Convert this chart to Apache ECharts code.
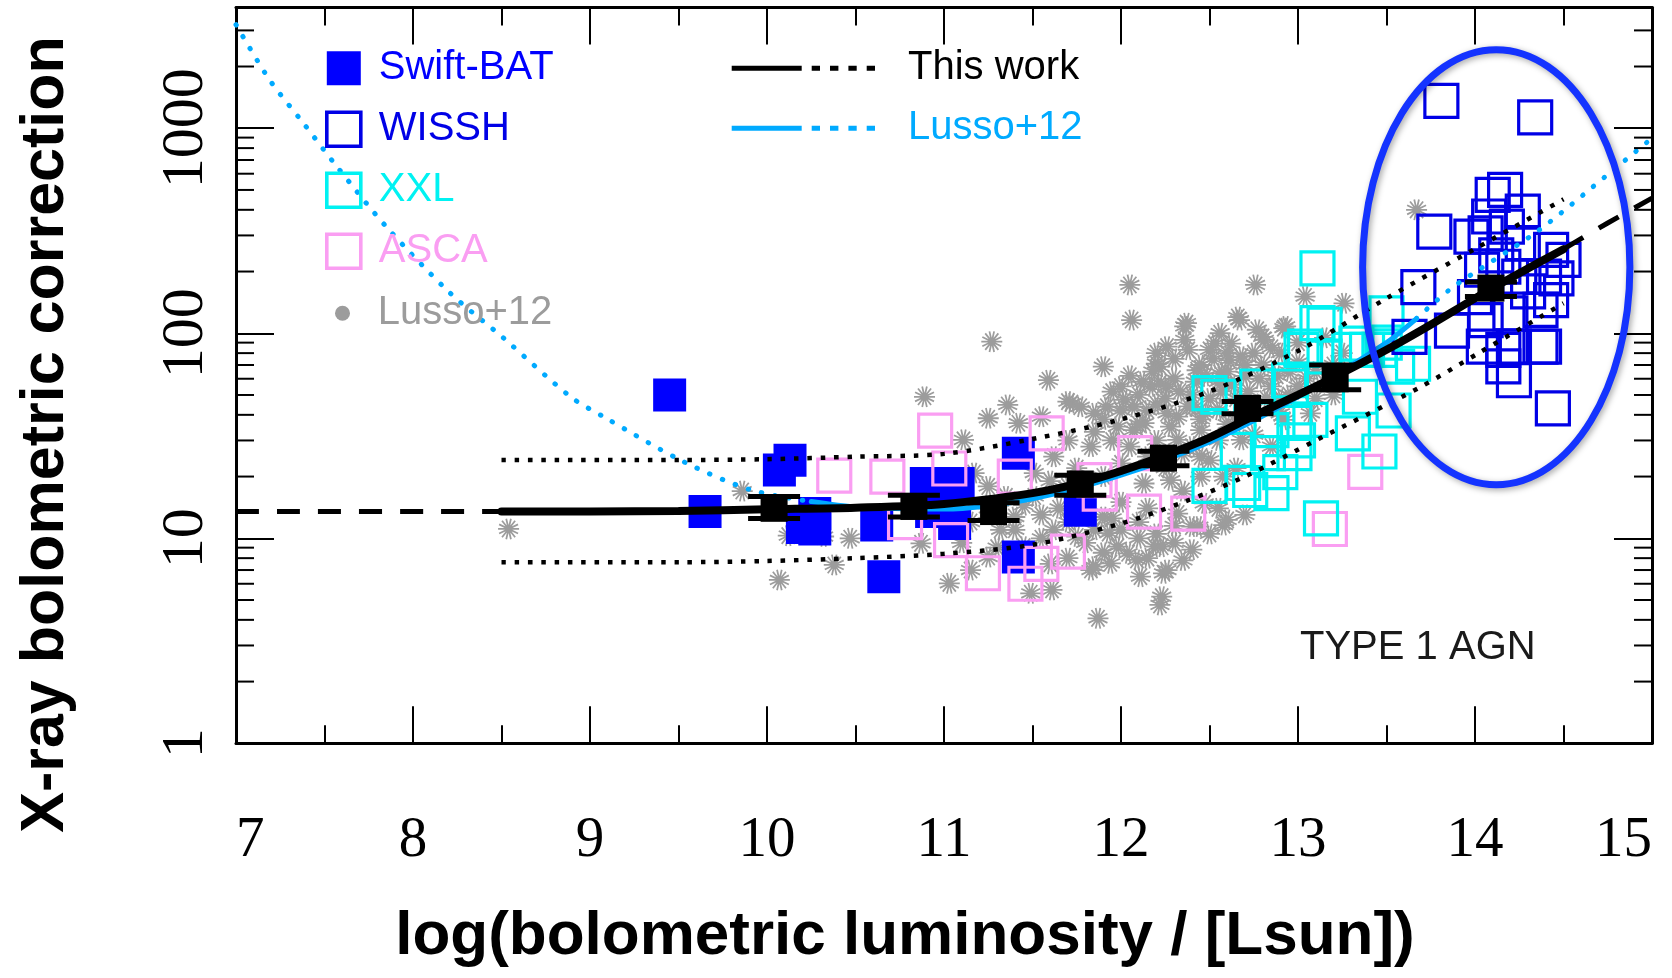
<!DOCTYPE html>
<html>
<head>
<meta charset="utf-8">
<title>X-ray bolometric correction – Type 1 AGN</title>
<script src="https://cdn.jsdelivr.net/npm/echarts@6/dist/echarts.min.js"></script>
<style>
  html, body { margin: 0; padding: 0; background: #ffffff; }
  #chart { width: 1672px; height: 978px; }
</style>
</head>
<body>
<div id="chart"></div>
<script>
// ---------------------------------------------------------------------------
// Axis ranges and tick labels
// ---------------------------------------------------------------------------
const X_MIN = 7, X_MAX = 15;
const Y_MIN = 1, Y_MAX = 3880;
const X_TICK_LABELS = ['7', '8', '9', '10', '11', '12', '13', '14', '15'];
const Y_TICK_LABELS = ['1', '10', '100', '1000'];
const Y_MINOR_TICKS = [2, 3, 4, 5, 6, 7, 8, 9,
                       20, 30, 40, 50, 60, 70, 80, 90,
                       200, 300, 400, 500, 600, 700, 800, 900,
                       2000, 3000];

// ---------------------------------------------------------------------------
// Samples: [log(Lbol / Lsun), k_X]
// ---------------------------------------------------------------------------
const swiftBat = [[9.45, 50], [9.65, 13.5], [10.07, 21.5], [10.13, 24], [10.2, 11.3], [10.27, 11.1],
  [10.27, 13.2], [10.62, 11.6], [10.66, 6.5], [10.9, 18.5], [11.08, 18.5], [10.93, 13.5],
  [11.06, 11.8], [11.42, 26], [11.42, 8.1], [11.77, 13.7]];

const asca = [[10.38, 20.2], [10.68, 20], [10.78, 12], [10.95, 33.5], [11.03, 21.9], [11.04, 9.8],
  [11.22, 6.75], [11.4, 20], [11.46, 6.0], [11.55, 7.5], [11.58, 32.5], [11.7, 8.6], [11.85, 19.2],
  [11.88, 16.5], [12.08, 26], [12.13, 13.5], [12.38, 13.2], [13.18, 11.1], [13.38, 21.1]];

const xxl = [[12.5, 51], [12.55, 49], [12.5, 18], [12.69, 18.6], [12.73, 17.2], [12.85, 16.6],
  [12.66, 27], [12.83, 26], [12.98, 26], [12.85, 33.7], [12.77, 55], [12.96, 55], [12.95, 59],
  [12.98, 36.5], [13.07, 37.8], [13.02, 83], [13.04, 86], [13.15, 77], [13.33, 89], [13.11, 207],
  [13.11, 112], [13.15, 110], [13.13, 12.5], [13.29, 83], [13.31, 32.5], [13.35, 49], [13.39, 83],
  [13.46, 26.5], [13.46, 83], [13.49, 90], [13.5, 125], [13.54, 42], [13.56, 68.7], [13.65, 71],
  [12.9, 21], [13.0, 30]];

const wissh = [[13.81, 1360], [14.34, 1130], [13.77, 313], [13.68, 168], [13.63, 96], [13.87, 103],
  [14.17, 500], [14.1, 473], [14.27, 392], [14.08, 371], [13.98, 296], [14.06, 307], [14.27, 275],
  [14.18, 331], [14.5, 228], [14.46, 185], [14.43, 145], [14.16, 211], [14.25, 189], [14.04, 204],
  [14.2, 125], [14.06, 116], [14.37, 130], [14.37, 86], [14.16, 83], [14.16, 69], [14.22, 59],
  [14.44, 43], [14.22, 86], [14.39, 86], [14.05, 86], [14.39, 189], [14.43, 255], [14.12, 240],
  [14.3, 160], [14.0, 150]];

const lussoPoints = [[8.54, 11.1], [9.86, 17.0], [10.07, 6.26], [10.12, 10.3], [10.32, 10.2],
  [10.38, 7.41], [10.47, 10.0], [10.87, 9.45], [10.89, 49], [11.03, 6.03], [11.11, 30.2], [11.15, 7.0],
  [11.17, 20.8], [11.25, 38.5], [11.25, 17.9], [11.25, 8.1], [11.27, 91], [11.32, 11.0], [11.36, 44.7],
  [11.4, 12.7], [11.4, 26], [11.42, 36.4], [11.45, 9.1], [11.49, 5.39], [11.51, 20.8], [11.51, 16],
  [11.55, 39.2], [11.59, 59], [11.61, 5.6], [11.62, 25], [11.62, 11], [11.7, 46.4], [11.7, 17.9],
  [11.72, 45.6], [11.75, 10.2], [11.77, 43.8], [11.83, 28], [11.83, 7.0], [11.85, 40.7], [11.85, 7.27],
  [11.87, 4.07], [11.9, 68.7], [11.9, 12.7], [11.92, 43.8], [11.93, 10.6], [11.94, 7.55], [11.95, 51.9],
  [11.98, 35], [11.98, 9.1], [12.0, 23.2], [12.02, 47.3], [12.04, 8.45], [12.05, 172], [12.06, 116],
  [12.07, 43.8], [12.07, 33.7], [12.09, 7.84], [12.11, 6.5], [12.13, 36.4], [12.13, 18.5], [12.17, 55],
  [12.19, 9.1], [12.2, 80], [12.2, 71], [12.22, 68.7], [12.22, 57], [12.22, 4.73], [12.23, 9.1],
  [12.23, 5.19], [12.24, 6.75], [12.26, 55], [12.26, 40.7], [12.26, 86], [12.26, 7.0], [12.28, 19.2],
  [12.32, 30.2], [12.32, 39.2], [12.32, 13.2], [12.36, 92.8], [12.36, 108], [12.37, 112], [12.38, 83],
  [12.4, 11.4], [12.41, 43.8], [12.43, 66], [12.44, 11.4], [12.45, 33.7], [12.45, 25], [12.47, 14.8],
  [12.47, 40.7], [12.5, 83], [12.53, 89], [12.55, 42.3], [12.56, 63.8], [12.56, 100], [12.58, 11.6],
  [12.58, 20], [12.6, 12.3], [12.61, 74], [12.62, 89], [12.66, 120], [12.67, 116], [12.68, 76.9],
  [12.68, 30.2], [12.7, 13], [12.75, 80], [12.76, 172], [12.77, 104], [12.8, 96], [12.81, 92.8],
  [12.9, 40.7], [12.92, 106], [12.92, 37.8], [12.93, 108], [13.04, 151], [13.07, 40.7], [13.26, 140],
  [13.67, 400],
  [12.3, 60], [12.4, 50], [12.45, 70], [12.55, 58], [12.6, 65], [12.65, 48], [12.7, 62], [12.8, 70],
  [12.85, 55], [12.9, 80], [12.95, 65], [13.0, 72], [12.2, 45], [12.1, 50], [11.95, 30], [11.75, 22],
  [11.7, 30], [11.65, 14], [11.55, 13], [11.45, 14.5], [11.35, 16], [11.25, 14], [11.15, 12], [11.6, 19],
  [11.8, 15], [11.9, 20], [12.0, 15], [12.05, 28], [12.15, 25], [12.25, 22], [12.35, 17], [12.4, 28],
  [12.5, 24], [12.6, 36], [12.7, 45], [12.75, 32], [12.9, 48], [13.0, 55], [13.1, 65], [13.2, 50],
  [13.25, 80], [12.2, 10.5], [12.3, 9.5], [12.4, 8.8], [11.95, 12.5], [12.0, 11.0], [11.7, 8.0],
  [11.6, 7.5], [11.3, 9], [11.1, 9.5], [11.4, 11], [11.55, 10], [12.15, 14], [12.45, 20],
  [11.85, 33], [11.9, 38], [12.0, 42], [12.0, 55], [12.05, 62], [12.1, 36], [12.12, 58], [12.15, 42],
  [12.18, 65], [12.25, 48], [12.28, 35], [12.3, 75], [12.33, 52], [12.38, 44], [12.42, 58], [12.48, 62],
  [12.5, 48], [12.52, 75], [12.57, 52], [12.6, 80], [12.63, 56], [12.65, 38], [12.7, 70], [12.72, 52],
  [12.78, 60], [12.82, 48], [12.85, 85], [12.88, 62], [12.95, 50], [13.0, 90], [13.05, 60], [13.1, 48],
  [13.15, 95], [13.2, 70], [12.35, 26], [12.55, 30], [12.65, 22], [12.85, 28], [12.2, 30], [12.45, 38],
  [11.7, 12], [11.8, 9.5], [11.9, 8.5], [12.1, 10], [12.15, 8], [12.3, 11.5], [12.35, 7.8], [12.5, 10.5],
  [12.1, 12], [11.85, 11], [12.55, 14]];

// ---------------------------------------------------------------------------
// Relations
// ---------------------------------------------------------------------------
// This work: best fit (solid), its extrapolation (dashed) and scatter envelope (dotted)
const thisWorkFit = [[8.5, 13.5], [9.0, 13.5], [9.5, 13.6], [10.0, 13.85], [10.5, 14.1], [11.0, 14.7],
  [11.5, 16.6], [11.75, 18.4], [12.0, 21.3], [12.25, 25.4], [12.5, 31], [12.75, 39.5], [13.0, 50],
  [13.25, 64], [13.5, 83], [13.75, 110], [14.0, 148], [14.25, 196], [14.5, 257]];
const thisWorkLowExt = [[7.0, 13.5], [8.5, 13.5]];
const thisWorkHighExt = [[14.5, 257], [14.75, 345], [15.0, 456]];
const thisWorkUpper = [[8.5, 24.1], [9.5, 24.1], [10.0, 24.3], [10.5, 25], [11.0, 25.8], [11.5, 30.5],
  [12.0, 38], [12.5, 52], [13.0, 82], [13.5, 148], [14.0, 258], [14.5, 450]];
const thisWorkLower = [[8.5, 7.64], [9.5, 7.64], [10.0, 7.75], [10.5, 8.0], [11.0, 8.4], [11.5, 9.3],
  [12.0, 11.8], [12.36, 15.1], [12.7, 20], [13.1, 30], [13.68, 54], [14.02, 80], [14.5, 140]];
// binned values: [x, k_X, lower, upper]
const thisWorkBins = [[10.04, 14.0, 12.5, 16.0], [10.83, 14.3, 12.7, 16.2], [11.28, 13.5, 12.2, 14.9],
  [11.77, 18.4, 16.2, 20.3], [12.24, 24.6, 22.6, 26.6], [12.715, 43, 40.5, 46.5],
  [13.21, 60, 53, 70], [14.09, 166, 151, 178]];

// Lusso+12: extrapolated (dotted) and covered (solid) ranges
const lussoLowExt = [[7.0, 3200], [7.19, 1720], [7.38, 1060], [7.57, 650], [7.85, 330], [8.21, 157],
  [8.51, 95], [8.89, 49], [9.08, 39], [9.53, 23.6], [9.91, 17.2], [10.25, 15.1]];
const lussoFit = [[10.25, 15.1], [10.5, 14.2], [11.0, 13.9], [11.5, 15.6], [12.0, 20.3], [12.5, 29.5],
  [13.0, 49], [13.5, 90], [13.67, 118]];
const lussoHighExt = [[13.67, 118], [13.88, 169], [14.35, 313], [14.76, 604], [15.0, 895]];

// hyper-luminous region highlighted with an ellipse: centre, half-width (dex in L), half-height (dex in k_X)
const highlightRegion = [[14.12, 210, 0.755, 1.061]];

// ---------------------------------------------------------------------------
// Colours
// ---------------------------------------------------------------------------
const C_SWIFT = '#0000ff';
const C_WISSH = '#0000e6';
const C_XXL = '#00f2f2';
const C_ASCA = '#fa9ef2';
const C_GREY = '#9c9c9c';
const C_LUSSO = '#00aaff';
const C_RING = '#1433ff';

// asterisk marker built from thin crossing bars
function asteriskPath(bars, r, w) {
  let d = '';
  for (let i = 0; i < bars; i++) {
    const a = Math.PI * i / bars, c = Math.cos(a), s = Math.sin(a);
    const pts = [[-r, -w], [r, -w], [r, w], [-r, w]].map(([u, v]) => [u * c - v * s, u * s + v * c]);
    d += 'M' + pts.map(p => p[0].toFixed(2) + ',' + p[1].toFixed(2)).join('L') + 'Z';
  }
  return 'path://' + d;
}
const ASTERISK = asteriskPath(7, 50, 4.2);

// legend glyph: solid segment followed by short dashes
const LINE_ICON = 'path://M0,0H70V5H0Z M80,0H88.3V5H80Z M98.3,0H106.7V5H98.3Z M116.7,0H125V5H116.7Z M135,0H143.3V5H135Z';

const SANS = '"Liberation Sans", Arial, Helvetica, sans-serif';
const SERIF = '"Liberation Serif", "Times New Roman", serif';

function openSquares(name, data, color) {
  return {
    name, type: 'scatter', data, symbol: 'rect', symbolSize: 33, silent: true, z: 2,
    itemStyle: { color: 'rgba(0,0,0,0)', borderColor: color, borderWidth: 3.2, opacity: 1 }
  };
}

function lineSeries(name, data, color, width, type, cap, z) {
  return {
    name, type: 'line', data, showSymbol: false, symbol: 'none', smooth: 0.3, silent: true, z,
    lineStyle: { color, width, type, cap }
  };
}

const frameLine = { show: true, onZero: false, lineStyle: { color: '#000', width: 3 } };

const option = {
  animation: false,
  backgroundColor: '#ffffff',
  textStyle: { fontFamily: SANS },
  grid: { left: 236, right: 20, top: 7.5, bottom: 234.7, containLabel: false, outerBoundsMode: 'none' },
  xAxis: [
    {
      type: 'value', min: X_MIN, max: X_MAX, interval: 1, position: 'bottom',
      axisLine: frameLine,
      axisTick: { show: true, inside: true, length: 37, lineStyle: { color: '#000', width: 2 } },
      minorTick: { show: true, splitNumber: 2, length: 18, lineStyle: { color: '#000', width: 2 } },
      splitLine: { show: false }, minorSplitLine: { show: false },
      axisLabel: {
        show: true, margin: 69, color: '#000', fontFamily: SERIF, fontSize: 57, lineHeight: 57,
        showMinLabel: true, showMaxLabel: true, alignMinLabel: 'left', alignMaxLabel: 'right',
        formatter: v => (X_TICK_LABELS.includes(String(v)) ? String(v) : '')
      }
    },
    {
      type: 'value', min: X_MIN, max: X_MAX, interval: 1, position: 'top',
      axisLine: frameLine,
      axisTick: { show: true, inside: true, length: 37, lineStyle: { color: '#000', width: 2 } },
      minorTick: { show: true, splitNumber: 2, length: 18, lineStyle: { color: '#000', width: 2 } },
      splitLine: { show: false }, axisLabel: { show: false }
    }
  ],
  yAxis: [
    {
      type: 'log', logBase: 10, min: Y_MIN, max: Y_MAX, position: 'left',
      axisLine: frameLine,
      axisTick: { show: true, inside: true, length: 38, lineStyle: { color: '#000', width: 2 } },
      splitLine: { show: false },
      axisLabel: {
        show: true, rotate: 90, margin: 19.5, color: '#000', fontFamily: SERIF, fontSize: 60, lineHeight: 60,
        showMinLabel: true, showMaxLabel: false,
        formatter: v => (Y_TICK_LABELS.includes(String(v)) ? String(v) : '')
      }
    },
    {
      type: 'log', logBase: 10, min: Y_MIN, max: Y_MAX, position: 'right',
      axisLine: frameLine,
      axisTick: { show: true, inside: true, length: 38, lineStyle: { color: '#000', width: 2 } },
      splitLine: { show: false }, axisLabel: { show: false }
    }
  ],
  legend: [
    {
      orient: 'vertical', left: 325, top: 48.3, padding: 0, itemWidth: 34, itemHeight: 34, itemGap: 21,
      textStyle: { fontFamily: SANS, fontSize: 40, lineHeight: 40, padding: [0, 0, 0, 13] },
      data: [
        { name: 'Swift-BAT', icon: 'rect', itemStyle: { color: C_SWIFT, borderWidth: 0 }, textStyle: { color: C_SWIFT } },
        { name: 'WISSH', icon: 'rect', itemStyle: { color: 'rgba(0,0,0,0)', borderColor: C_WISSH, borderWidth: 3.6 }, textStyle: { color: C_WISSH } },
        { name: 'XXL', icon: 'rect', itemStyle: { color: 'rgba(0,0,0,0)', borderColor: C_XXL, borderWidth: 3.6 }, textStyle: { color: C_XXL } },
        { name: 'ASCA', icon: 'rect', itemStyle: { color: 'rgba(0,0,0,0)', borderColor: C_ASCA, borderWidth: 3.6 }, textStyle: { color: C_ASCA } }
      ]
    },
    {
      orient: 'vertical', left: 335, top: 293.3, padding: 0, itemWidth: 15, itemHeight: 15,
      textStyle: { fontFamily: SANS, fontSize: 40, lineHeight: 40, padding: [0, 0, 0, 22.7] },
      data: [
        { name: 'Lusso+12', icon: 'circle', itemStyle: { color: C_GREY, borderWidth: 0 }, textStyle: { color: C_GREY } }
      ]
    },
    {
      orient: 'vertical', left: 731.7, top: 48.3, padding: 0, itemWidth: 143.3, itemHeight: 5, itemGap: 20,
      textStyle: { fontFamily: SANS, fontSize: 40, lineHeight: 40, padding: [0, 0, 0, 28] },
      data: [
        { name: 'This work', icon: LINE_ICON, itemStyle: { color: '#000', borderWidth: 0 }, textStyle: { color: '#000' } },
        { name: 'Lusso+12', icon: LINE_ICON, itemStyle: { color: C_LUSSO, borderWidth: 0 }, textStyle: { color: C_LUSSO } }
      ]
    }
  ],
  graphic: [
    {
      type: 'text', id: 'x-title', x: 905, y: 936.5, silent: true,
      style: { text: 'log(bolometric luminosity / [Lsun])', font: 'bold 62px ' + SANS, fill: '#000',
               textAlign: 'center', textVerticalAlign: 'middle' }
    },
    {
      type: 'text', id: 'y-title', x: 46, y: 434.5, rotation: Math.PI / 2, silent: true,
      style: { text: 'X-ray bolometric correction', font: 'bold 61px ' + SANS, fill: '#000',
               textAlign: 'center', textVerticalAlign: 'middle' }
    },
    {
      type: 'text', id: 'type-label', x: 1300, y: 648, silent: true,
      style: { text: 'TYPE 1 AGN', font: '40px ' + SANS, fill: '#1a1a1a',
               textAlign: 'left', textVerticalAlign: 'middle' }
    }
  ],
  series: [
    {
      name: 'Lusso+12', type: 'scatter', data: lussoPoints, symbol: ASTERISK, symbolSize: 21,
      silent: true, z: 1, itemStyle: { color: C_GREY, opacity: 1 }
    },
    {
      name: 'Swift-BAT', type: 'scatter', data: swiftBat, symbol: 'rect', symbolSize: 33,
      silent: true, z: 2, itemStyle: { color: C_SWIFT, opacity: 1 }
    },
    openSquares('ASCA', asca, C_ASCA),
    openSquares('XXL', xxl, C_XXL),
    openSquares('WISSH', wissh, C_WISSH),

    lineSeries('Lusso+12', lussoLowExt, C_LUSSO, 5, [0.5, 13.3], 'round', 3),
    lineSeries('Lusso+12', lussoFit, C_LUSSO, 5, 'solid', 'round', 3),
    lineSeries('Lusso+12', lussoHighExt, C_LUSSO, 5, [0.5, 13.3], 'round', 3),

    lineSeries('This work', thisWorkLowExt, '#000', 5, [23, 18], 'butt', 4),
    lineSeries('This work', thisWorkUpper, '#000', 4.5, [4.5, 8.8], 'butt', 4),
    lineSeries('This work', thisWorkLower, '#000', 4.5, [4.5, 8.8], 'butt', 4),
    lineSeries('This work', thisWorkFit, '#000', 8, 'solid', 'round', 4),
    lineSeries('This work', thisWorkHighExt, '#000', 5, [23, 18], 'butt', 4),
    {
      name: 'This work', type: 'custom', data: thisWorkBins, encode: { x: 0, y: 1 },
      silent: true, z: 5, clip: false,
      renderItem(params, api) {
        const x = api.value(0);
        const c = api.coord([x, api.value(1)]);
        const lo = api.coord([x, api.value(2)]);
        const hi = api.coord([x, api.value(3)]);
        const half = 13.5, cap = 26;
        const bar = { stroke: '#000', lineWidth: 5 };
        return {
          type: 'group', children: [
            { type: 'line', shape: { x1: c[0], y1: lo[1], x2: c[0], y2: hi[1] }, style: bar },
            { type: 'line', shape: { x1: c[0] - cap, y1: hi[1], x2: c[0] + cap, y2: hi[1] }, style: bar },
            { type: 'line', shape: { x1: c[0] - cap, y1: lo[1], x2: c[0] + cap, y2: lo[1] }, style: bar },
            { type: 'rect', shape: { x: c[0] - half, y: c[1] - half, width: 2 * half, height: 2 * half }, style: { fill: '#000' } }
          ]
        };
      }
    },
    {
      // minor ticks of the logarithmic axis on both sides of the frame
      name: 'minor ticks', type: 'custom', data: Y_MINOR_TICKS.map(v => [X_MIN, v]), encode: { x: 0, y: 1 },
      silent: true, z: 6, clip: false,
      renderItem(params, api) {
        const p = api.coord([X_MIN, api.value(1)]);
        const cs = params.coordSys;
        const st = { stroke: '#000', lineWidth: 2 };
        return {
          type: 'group', children: [
            { type: 'line', shape: { x1: cs.x, y1: p[1], x2: cs.x + 18, y2: p[1] }, style: st },
            { type: 'line', shape: { x1: cs.x + cs.width, y1: p[1], x2: cs.x + cs.width - 18, y2: p[1] }, style: st }
          ]
        };
      }
    },
    {
      name: 'highlight', type: 'custom', data: highlightRegion, encode: { x: 0, y: 1 },
      silent: true, z: 7, clip: false,
      renderItem(params, api) {
        const cx = api.value(0), cy = api.value(1);
        const c = api.coord([cx, cy]);
        const r = api.coord([cx + api.value(2), cy]);
        const t = api.coord([cx, cy * Math.pow(10, api.value(3))]);
        return {
          type: 'ellipse',
          shape: { cx: c[0], cy: c[1], rx: Math.abs(r[0] - c[0]), ry: Math.abs(c[1] - t[1]) },
          style: { fill: 'none', stroke: C_RING, lineWidth: 7,
                   shadowBlur: 6, shadowColor: 'rgba(0,0,0,0.35)', shadowOffsetX: 2, shadowOffsetY: 2 }
        };
      }
    }
  ]
};

const chart = echarts.init(document.getElementById('chart'), null, { renderer: 'canvas' });
chart.setOption(option);
</script>
</body>
</html>
